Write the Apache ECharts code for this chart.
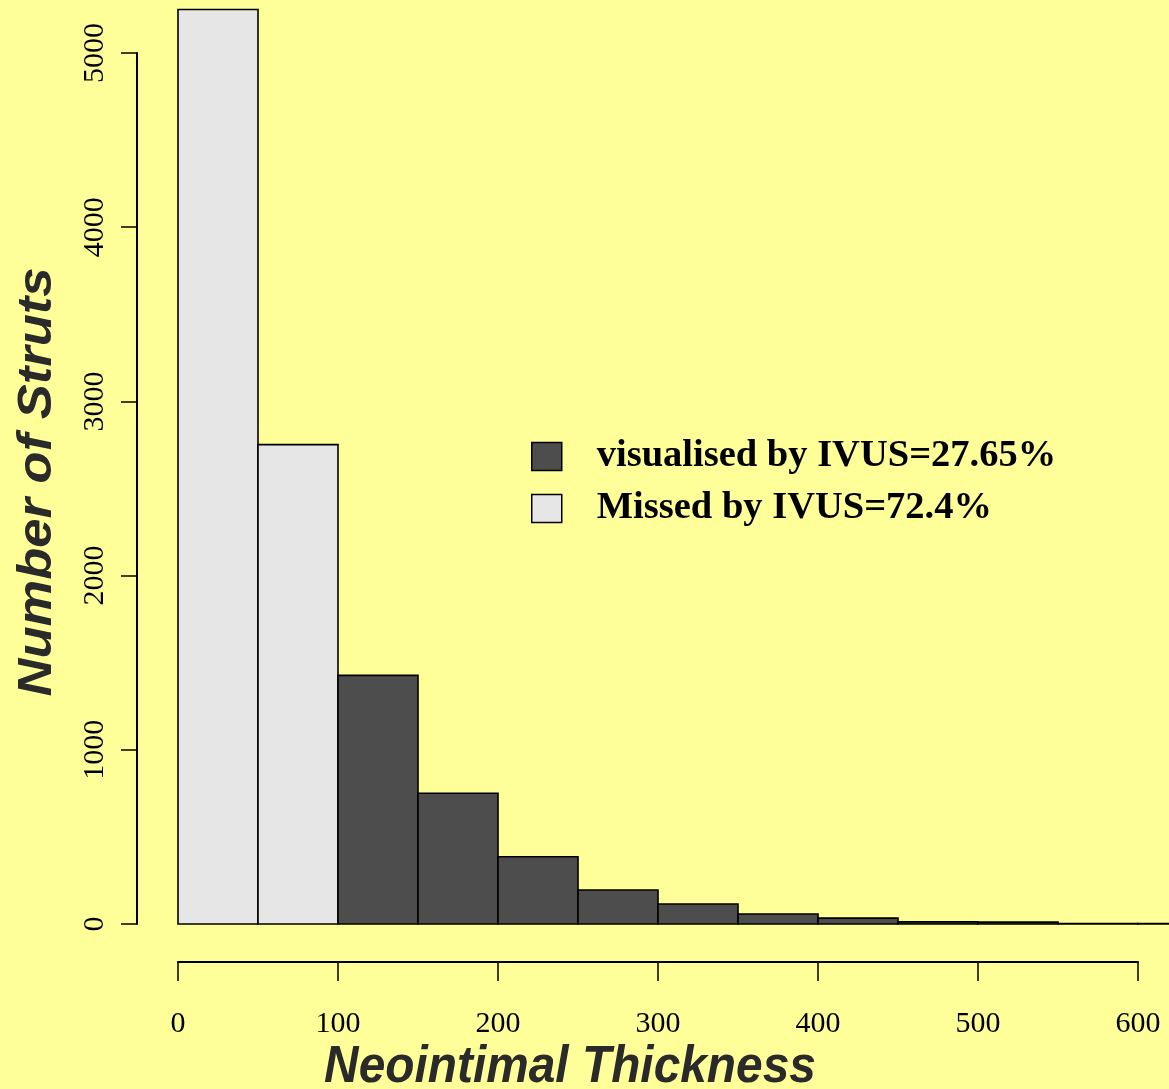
<!DOCTYPE html>
<html>
<head>
<meta charset="utf-8">
<script src="https://cdn.jsdelivr.net/npm/echarts@6/dist/echarts.min.js"></script>
<style>
html,body{margin:0;padding:0;background:#ffff99;}
#chart{width:1169px;height:1089px;}
</style>
</head>
<body>
<div id="chart"></div>
<script>
// Histogram bins (Neointimal Thickness)
const binLeft  = [0, 50, 100, 150, 200, 250, 300, 350, 400, 450, 500, 550, 600];
const binRight = [50, 100, 150, 200, 250, 300, 350, 400, 450, 500, 550, 600, 650];
// Counts per bin
const missedCounts     = [5250, 2752, null, null, null, null, null, null, null, null, null, null, null];
const visualisedCounts = [null, null, 1427, 751, 386, 195, 115, 57, 34, 12, 11, 3, 2];
const xTicks = [0, 100, 200, 300, 400, 500, 600];
const yTicks = [0, 1000, 2000, 3000, 4000, 5000];
const seriesNames = ['visualised by IVUS=27.65%', 'Missed by IVUS=72.4%'];

function toData(counts) {
  const out = [];
  counts.forEach((c, i) => { if (c != null) out.push([binLeft[i], binRight[i], c]); });
  return out;
}

function renderBin(params, api) {
  const p0 = api.coord([api.value(0), api.value(2)]);
  const p1 = api.coord([api.value(1), 0]);
  return {
    type: 'rect',
    shape: { x: p0[0], y: p0[1], width: p1[0] - p0[0], height: p1[1] - p0[1] },
    style: api.style({ stroke: '#000', lineWidth: 1.6 })
  };
}

const chart = echarts.init(document.getElementById('chart'), null, { renderer: 'canvas' });
chart.setOption({
  backgroundColor: '#ffff99',
  animation: false,
  grid: { left: 178, right: 31, top: 53, bottom: 165, containLabel: false },
  xAxis: {
    type: 'value', min: xTicks[0], max: xTicks[xTicks.length - 1], interval: 100,
    offset: 38,
    axisLine: { show: true, onZero: false, lineStyle: { color: '#000', width: 2 } },
    axisTick: { show: true, length: 19, lineStyle: { color: '#000', width: 1.5 } },
    axisLabel: { margin: 47, fontFamily: 'Liberation Serif', fontSize: 30, color: '#000',
                 showMinLabel: true, showMaxLabel: true, formatter: v => String(v) },
    splitLine: { show: false }
  },
  yAxis: {
    type: 'value', min: yTicks[0], max: yTicks[yTicks.length - 1], interval: 1000,
    offset: 41,
    axisLine: { show: true, onZero: false, lineStyle: { color: '#000', width: 2 } },
    axisTick: { show: true, length: 16, lineStyle: { color: '#000', width: 1.5 } },
    axisLabel: { margin: 27, rotate: 90, align: 'center', verticalAlign: 'bottom',
                 fontFamily: 'Liberation Serif', fontSize: 30, color: '#000',
                 showMinLabel: true, showMaxLabel: true, formatter: v => String(v) },
    splitLine: { show: false }
  },
  legend: {
    orient: 'vertical', left: 531, top: 437, padding: 0,
    itemWidth: 30, itemHeight: 28, itemGap: 13,
    icon: 'rect',
    data: seriesNames,
    itemStyle: { borderColor: '#000', borderWidth: 1.5 },
    textStyle: { fontFamily: 'Liberation Serif', fontWeight: 'bold', fontSize: 38.5, color: '#000',
                 padding: [0, 0, 0, 30] }
  },
  graphic: [
    { type: 'text', x: 570, y: 1068, scaleX: 0.92,
      style: { text: 'Neointimal Thickness', font: 'italic bold 52px "Liberation Sans"', fill: '#2a2a2a',
               textAlign: 'center', textVerticalAlign: 'middle' } },
    { type: 'text', x: 38, y: 482, rotation: Math.PI / 2, scaleY: 0.9,
      style: { text: 'Number of Struts', font: 'italic bold 52.5px "Liberation Sans"', fill: '#2a2a2a',
               textAlign: 'center', textVerticalAlign: 'middle' } }
  ],
  series: [
    { name: seriesNames[1], type: 'custom', clip: false, renderItem: renderBin,
      encode: { x: [0, 1], y: 2 },
      itemStyle: { color: '#e6e6e6', borderColor: '#000', borderWidth: 1.5 },
      data: toData(missedCounts) },
    { name: seriesNames[0], type: 'custom', clip: false, renderItem: renderBin,
      encode: { x: [0, 1], y: 2 },
      itemStyle: { color: '#4d4d4d', borderColor: '#000', borderWidth: 1.5 },
      data: toData(visualisedCounts) }
  ]
});
</script>
</body>
</html>
